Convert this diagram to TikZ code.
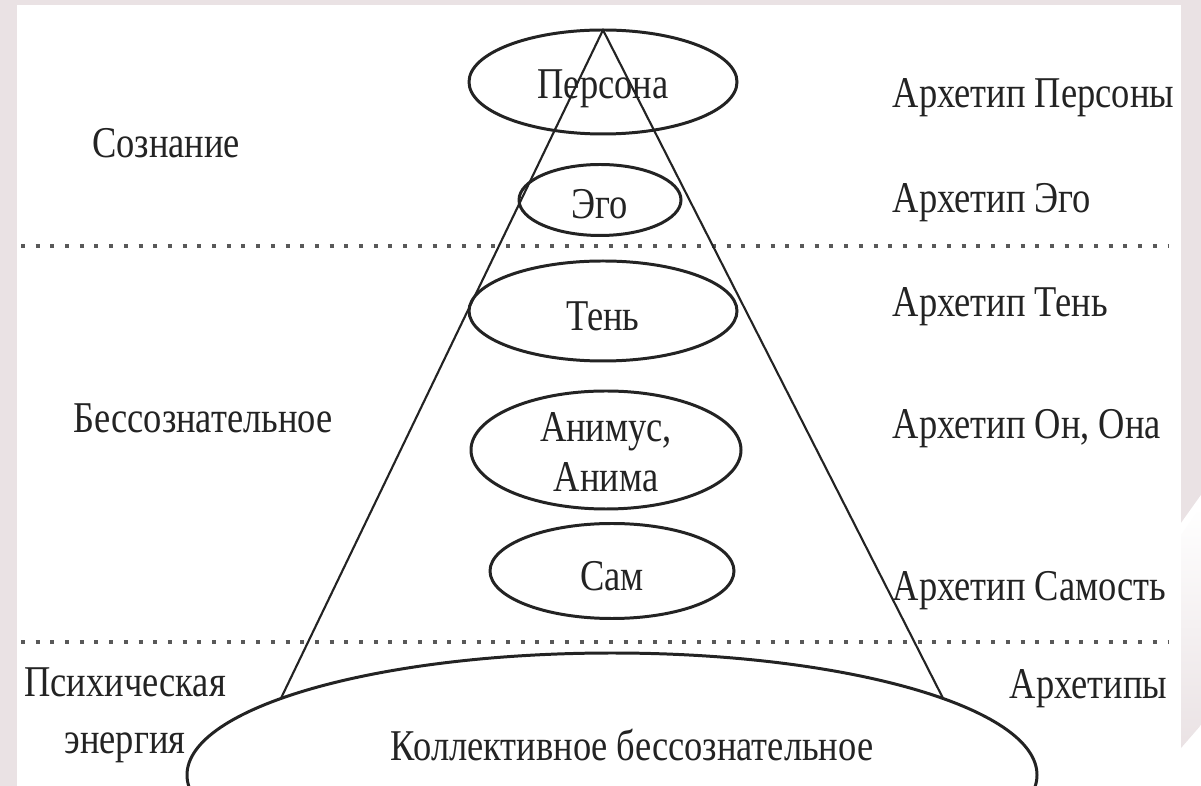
\documentclass[tikz,border=0pt]{standalone}
\usepackage{fontspec}
\setmainfont{Liberation Serif}[FakeStretch=0.83]
\definecolor{SlideBack}{RGB}{234,226,228}
\definecolor{InkGray}{RGB}{35,35,35}
\usetikzlibrary{shapes.geometric}

\begin{document}
\begin{tikzpicture}[
        ovalbox/.style={ellipse, draw=InkGray, line width=0.85pt, inner sep=0pt, outer sep=0pt},
        lbl/.style={font=\fontsize{12.5}{14.2}\selectfont, text=InkGray, inner sep=0pt},
        coneline/.style={draw=InkGray, line width=0.6pt},
        dotline/.style={draw=black!65, line width=1.2pt, dash pattern=on 0.04cm off 0.107cm}
      ]
        \path[use as bounding box, clip] (0,0) rectangle (12.01,-7.86);
        \fill[SlideBack] (0,0) rectangle (12.01,-7.86);
        \fill[white] (0.17,-0.05) rectangle (11.81,-7.86);
        \fill[white] (11.81,-5.23) -- (12.01,-4.95) -- (12.01,-7.86) -- (11.81,-7.86) -- cycle;
        \shade[top color=white, bottom color=SlideBack]
          (11.81,-5.35) -- (12.01,-5.07) -- (12.01,-7.25) -- (11.81,-7.48) -- cycle;

        \draw[dotline] (0.21,-2.46) -- (11.68,-2.46);
        \draw[dotline] (0.21,-6.42) -- (11.68,-6.42);

        \node[ovalbox, minimum width=2.68cm, minimum height=1.04cm] (persona) at (6.03,-0.82) {};
        \node[ovalbox, minimum width=1.62cm, minimum height=0.71cm] (ego)     at (6.00,-2.00) {};
        \node[ovalbox, minimum width=2.68cm, minimum height=1.00cm] (shadow)  at (6.03,-3.11) {};
        \node[ovalbox, minimum width=2.70cm, minimum height=1.18cm] (anima)   at (6.06,-4.50) {};
        \node[ovalbox, minimum width=2.44cm, minimum height=0.95cm] (self)    at (6.12,-5.71) {};
        \node[ovalbox, minimum width=8.50cm, minimum height=2.44cm] (coll)    at (6.12,-7.75) {};

        \node[lbl] (personatxt) at ([yshift=-0.07cm]persona) {Персона};
        \node[lbl] (egotxt)     at ([yshift=-0.04cm]ego) {Эго};
        \node[lbl] (shadowtxt)  at ([yshift=-0.05cm]shadow) {Тень};
        \node[lbl, align=center] (animatxt) at ([yshift=-0.02cm]anima) {Анимус,\\Анима};
        \node[lbl] (selftxt)    at ([yshift=-0.05cm]self) {Сам};
        \node[lbl] (colltxt)    at (6.32,-7.45) {Коллективное бессознательное};

        \coordinate (apex) at (persona.north);
        \draw[coneline] (apex) -- (coll.167.5);
        \draw[coneline] (apex) -- (coll.13.2);

        \node[lbl] (consc)  at (1.66,-1.43) {Сознание};
        \node[lbl] (uncons) at (2.03,-4.18) {Бессознательное};
        \node[lbl, align=center, font=\fontsize{12.5}{16.2}\selectfont] (energy) at (1.25,-7.15) {Психическая\\энергия};

        \node[lbl, anchor=west] (apersona) at (8.92,-0.98) {Архетип Персоны};
        \node[lbl, anchor=west] (aego)     at (8.92,-2.03) {Архетип Эго};
        \node[lbl, anchor=west] (ashadow)  at (8.92,-3.07) {Архетип Тень};
        \node[lbl, anchor=west] (aanima)   at (8.92,-4.29) {Архетип Он, Она};
        \node[lbl, anchor=west] (aself)    at (8.92,-5.91) {Архетип Самость};
        \node[lbl, anchor=east] (aall)     at (11.68,-6.89) {Архетипы};
      \end{tikzpicture}
\end{document}
